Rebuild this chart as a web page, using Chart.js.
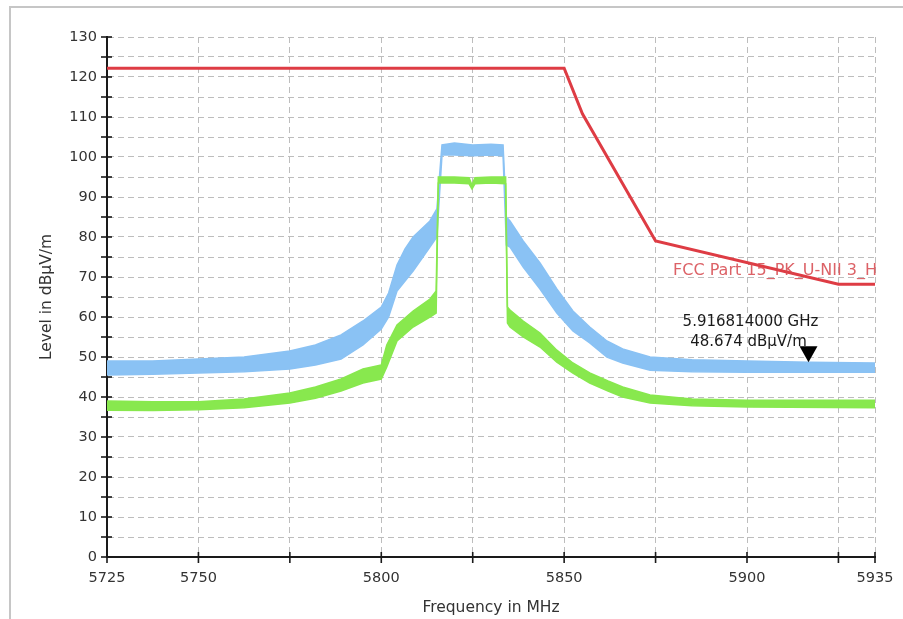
<!DOCTYPE html>
<html>
<head>
<meta charset="utf-8">
<script src="https://cdn.jsdelivr.net/npm/chart.js@4.4.1/dist/chart.umd.min.js"></script>
<style>
html, body { margin: 0; padding: 0; background: #fff; }
#frame { position: absolute; left: 9px; top: 6px; width: 900px; height: 620px; border-left: 2px solid #c6c6c6; border-top: 2px solid #c6c6c6; }
#wrap { position: absolute; left: 0; top: 0; width: 903px; height: 619px; }
</style>
</head>
<body>
<div id="frame"></div>
<div id="wrap"><canvas id="myChart"></canvas></div>
<script>
// horizontal trace (blue), peak envelope
var blueFreq = [5725, 5737.5, 5750, 5762.5, 5775, 5782, 5789, 5795, 5800, 5802, 5804.3, 5806.5, 5808.7, 5811, 5813.3, 5815.2, 5816.6, 5820, 5825, 5830, 5833.3, 5834.2, 5835.2, 5838.8, 5843.4, 5848, 5852.4, 5857, 5861.7, 5866, 5873.5, 5885, 5900, 5917, 5935];
var blueHigh = [49, 49, 49.5, 50, 51.5, 53, 55.5, 59, 62.5, 66, 73, 77, 80, 82, 84, 87, 103, 103.5, 103, 103.2, 103, 85, 84, 79, 73.5, 67, 61.5, 57.5, 54, 52, 50, 49.3, 49, 48.7, 48.5];
var blueLow  = [45.5, 45.7, 46, 46.3, 47, 48, 49.5, 53, 57, 60, 66.5, 69, 71.5, 74.5, 77.5, 80, 100.5, 100.5, 100.3, 100.5, 100.3, 78, 77.5, 72.5, 67, 61, 56.5, 53.5, 50, 48.5, 46.7, 46.3, 46.2, 46.2, 46.2];

// vertical trace (green)
var greenFreq = [5725, 5737.5, 5750, 5762.5, 5775, 5782, 5789, 5795, 5800, 5801.5, 5804.3, 5808.7, 5813.3, 5815, 5815.6, 5820, 5824, 5824.8, 5825.6, 5830, 5834, 5834.5, 5835.2, 5838.8, 5843.4, 5848, 5852.4, 5857, 5862, 5866, 5873.5, 5885, 5900, 5935];
var greenHigh = [39, 38.8, 38.8, 39.5, 41, 42.5, 44.5, 47, 48, 53, 58, 61.5, 64.5, 66.5, 95, 95, 94.8, 93, 94.8, 95, 95, 62.5, 61.7, 59, 56, 51.7, 48.5, 46, 44, 42.5, 40.5, 39.5, 39.2, 39.2];
var greenLow  = [36.7, 36.6, 36.8, 37.3, 38.5, 39.7, 41.5, 43.5, 44.5, 47.5, 54, 57.5, 60, 61, 93.5, 93.5, 93.3, 92, 93.3, 93.5, 93.3, 58.5, 57.5, 55, 52.5, 48.7, 46, 43.5, 41.5, 40, 38.5, 37.8, 37.5, 37.3];

// limit line
var limitName = 'FCC Part 15_PK_U-NII 3_H';
var limitFreq  = [5725, 5850, 5855, 5875, 5925, 5935];
var limitLevel = [122.2, 122.2, 110.8, 79, 68.2, 68.2];
var limitLabelLevel = 71.5;

// marker
var markerFreq = 5916.814;
var markerLevel = 48.674;

var xTicks = [5725, 5750, 5775, 5800, 5825, 5850, 5875, 5900, 5925, 5935];
var xLabels = [5725, 5750, 5800, 5850, 5900, 5935];

function pts(xs, ys) {
  return xs.map(function (v, i) { return {x: v, y: ys[i]}; });
}

var BLUE = 'rgb(138,194,244)';
var GREEN = 'rgb(136,232,78)';
var RED = 'rgb(222,60,68)';
var FONT = '"DejaVu Sans", sans-serif';

var decor = {
  id: 'decor',
  afterDraw: function (chart) {
    var ctx = chart.ctx, x = chart.scales.x, y = chart.scales.y;
    ctx.save();
    // tick marks crossing the axes
    ctx.strokeStyle = '#1a1a1a';
    ctx.lineWidth = 1.6;
    y.ticks.forEach(function (t) {
      var py = y.getPixelForValue(t.value);
      ctx.beginPath(); ctx.moveTo(x.left - 6, py); ctx.lineTo(x.left + 5, py); ctx.stroke();
    });
    x.ticks.forEach(function (t) {
      var px = x.getPixelForValue(t.value);
      ctx.beginPath(); ctx.moveTo(px, y.bottom - 5); ctx.lineTo(px, y.bottom + 6); ctx.stroke();
    });
    // limit line name
    ctx.font = '16px ' + FONT;
    ctx.fillStyle = 'rgba(214,70,76,0.85)';
    ctx.textAlign = 'right';
    ctx.textBaseline = 'middle';
    ctx.fillText(limitName, x.right + 2, y.getPixelForValue(limitLabelLevel));
    // marker triangle and readout
    var mx = x.getPixelForValue(markerFreq), my = y.getPixelForValue(markerLevel);
    ctx.fillStyle = '#000';
    ctx.beginPath();
    ctx.moveTo(mx, my);
    ctx.lineTo(mx - 9, my - 16);
    ctx.lineTo(mx + 9, my - 16);
    ctx.closePath();
    ctx.fill();
    ctx.font = '15px ' + FONT;
    ctx.fillStyle = '#1a1a1a';
    ctx.textAlign = 'center';
    ctx.fillText((markerFreq / 1000).toFixed(9) + ' GHz', mx - 58, my - 40);
    ctx.fillText(markerLevel.toFixed(3) + ' dB\u00b5V/m', mx - 60, my - 20);
    ctx.restore();
  }
};

var ctx = document.getElementById('myChart').getContext('2d');
var myChart = new Chart(ctx, {
  type: 'line',
  data: {
    datasets: [
      { data: pts(limitFreq, limitLevel), borderColor: RED, borderWidth: 3, fill: false },
      { data: pts(greenFreq, greenHigh), borderColor: GREEN, backgroundColor: GREEN, borderWidth: 1.5, fill: '+1' },
      { data: pts(greenFreq, greenLow), borderColor: GREEN, borderWidth: 1.5, fill: false },
      { data: pts(blueFreq, blueHigh), borderColor: BLUE, backgroundColor: BLUE, borderWidth: 1.5, fill: '+1' },
      { data: pts(blueFreq, blueLow), borderColor: BLUE, borderWidth: 1.5, fill: false }
    ]
  },
  options: {
    responsive: true,
    maintainAspectRatio: false,
    animation: false,
    layout: { padding: { top: 37, right: 28, bottom: 0, left: 0 } },
    elements: { point: { radius: 0 }, line: { tension: 0 } },
    plugins: { legend: { display: false }, tooltip: { enabled: false } },
    scales: {
      x: {
        type: 'linear',
        min: 5725,
        max: 5935,
        afterBuildTicks: function (scale) {
          scale.ticks = xTicks.map(function (v) { return {value: v}; });
        },
        afterFit: function (scale) {
          scale.height = 62;
          scale.paddingLeft = 0;
          scale.paddingRight = 0;
        },
        ticks: {
          autoSkip: false,
          maxRotation: 0,
          padding: 13,
          color: '#333',
          font: { family: FONT, size: 14.5 },
          callback: function (v) { return xLabels.indexOf(v) >= 0 ? String(v) : ''; }
        },
        grid: { color: '#bdbdbd', lineWidth: 1, drawTicks: false },
        border: { display: true, color: '#1a1a1a', width: 2, dash: [6, 4] },
        title: { display: true, text: 'Frequency in MHz', color: '#333', font: { family: FONT, size: 15.5 }, padding: { top: 0, bottom: 2 } }
      },
      y: {
        min: 0,
        max: 130,
        afterFit: function (scale) { scale.width = 107; },
        ticks: {
          stepSize: 5,
          autoSkip: false,
          padding: 10,
          color: '#333',
          font: { family: FONT, size: 14.5 },
          callback: function (v) { return v % 10 === 0 ? String(v) : ''; }
        },
        grid: { color: '#bdbdbd', lineWidth: 1, drawTicks: false },
        border: { display: true, color: '#1a1a1a', width: 2, dash: [6, 4] },
        title: { display: true, text: 'Level in dB\u00b5V/m', color: '#333', font: { family: FONT, size: 15.5 }, padding: { top: 38, bottom: 0 } }
      }
    }
  },
  plugins: [decor]
});
</script>
</body>
</html>
